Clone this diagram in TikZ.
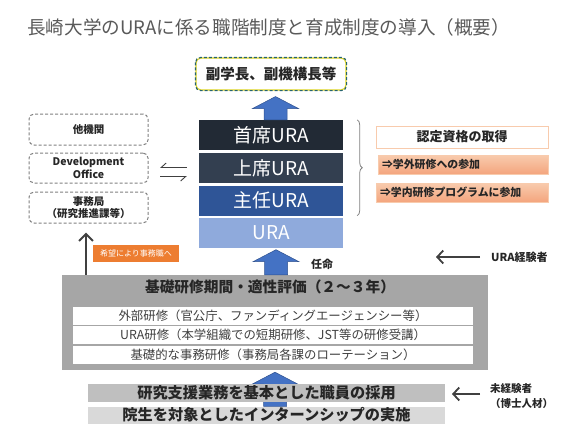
\documentclass[tikz,border=0pt]{standalone}
\usepackage{fontspec}
\setmainfont{Noto Sans CJK JP}
\usetikzlibrary{arrows.meta,calc,decorations.pathreplacing}
\definecolor{cA}{HTML}{222A35}
\definecolor{cB}{HTML}{333F50}
\definecolor{cC}{HTML}{2F5597}
\definecolor{cD}{HTML}{8FAADC}
\definecolor{blk}{HTML}{4472C4}
\definecolor{blkd}{HTML}{2F528F}
\definecolor{gboxc}{HTML}{A6A6A6}
\definecolor{barA}{HTML}{BFBFBF}
\definecolor{barB}{HTML}{D9D9D9}
\definecolor{orng}{HTML}{ED7D31}
\definecolor{peach}{HTML}{F8CBAD}
\definecolor{peachd}{HTML}{F4A57E}
\definecolor{ttl}{HTML}{595959}
\definecolor{txt}{HTML}{262626}
\definecolor{dk}{HTML}{404040}
\definecolor{dashg}{HTML}{808080}
\newcommand{\mkblockarrow}[2]{\filldraw[blockst] let \p1=#1, \p2=#2 in
  (\x1-11.5pt,\y1) -- (\x1-11.5pt,\y2-12pt) -- (\x1-23pt,\y2-12pt) -- (\x1,\y2)
  -- (\x1+23pt,\y2-12pt) -- (\x1+11.5pt,\y2-12pt) -- (\x1+11.5pt,\y1) -- cycle;}
\begin{document}
\begin{tikzpicture}[x=1pt,y=-1pt,
  lvl/.style={rectangle,minimum width=144pt,minimum height=30pt,inner sep=0pt,text=white,font=\fontsize{19}{22}\selectfont},
  sidebox/.style={rectangle,rounded corners=5pt,draw=dashg,dash pattern=on 3pt off 2pt,line width=1pt,fill=white,minimum width=119pt,inner sep=0pt,align=center,font=\bfseries\fontsize{10.5}{12.5}\selectfont,text=txt},
  rowbox/.style={rectangle,fill=white,minimum width=400pt,minimum height=18pt,inner sep=0pt,text=dk,font=\fontsize{12.4}{14}\selectfont},
  barbox/.style={rectangle,minimum width=357pt,inner sep=0pt,text=txt,font=\bfseries\fontsize{15.2}{17}\selectfont},
  certbox/.style={rectangle,minimum width=170pt,minimum height=19pt,inner sep=0pt,draw=peach,line width=0.6pt,top color=peach,bottom color=peachd,text=txt,font=\bfseries\fontsize{10.9}{12}\selectfont},
  blockst/.style={fill=blk,draw=blkd,line width=0.5pt},
  darrow/.style={draw=dk,line width=2pt,-{Straight Barb[length=7pt,width=14pt]}},
  tarrow/.style={draw=dk,line width=1.8pt,-{Straight Barb[length=6pt,width=13pt]}},
  harp/.style={draw=dk,line width=0.9pt,-{Straight Barb[harpoon,swap,length=5pt,width=9pt]}},
  smalltxt/.style={inner sep=0pt,text=txt,font=\bfseries\fontsize{11}{13}\selectfont}
]
\useasboundingbox (0,0) rectangle (567,434);
% title
\node[anchor=west,inner sep=0pt,text=ttl,font=\fontsize{18.6}{22}\selectfont] (title) at (27,27) {長崎大学のURAに係る職階制度と育成制度の導入（概要）};
% top box
\node[rectangle,rounded corners=5pt,draw=yellow!85!black,line width=1.1pt,fill=white,minimum width=150pt,minimum height=32pt,inner sep=0pt,font=\bfseries\fontsize{14.5}{17}\selectfont,text=txt] (top) at (271,74) {副学長、副機構長等};
\draw[draw=blk!80!green!70!black,line width=1.1pt,dash pattern=on 3pt off 2pt,rounded corners=5pt] (top.north west) rectangle (top.south east);
% stack
\node[lvl,fill=cA] (s4) at (271,135) {首席URA};
\node[lvl,fill=cB] (s3) at (271,168) {上席URA};
\node[lvl,fill=cC] (s2) at (271,200.5) {主任URA};
\node[lvl,fill=cD] (s1) at (271,232.5) {URA};
\mkblockarrow{($(s4.north)+(4.5,0)$)}{($(top.south)+(4.5,6)$)}
% brace
\draw[decorate,decoration={brace,amplitude=5pt},draw=dashg,line width=0.8pt] ($(s4.north east)+(14,0)$) -- ($(s2.south east)+(14,0)$);
% right boxes
\node[rectangle,minimum width=172pt,minimum height=22pt,inner sep=0pt,draw=peach,line width=1pt,fill=white,text=txt,font=\bfseries\fontsize{13}{15}\selectfont] (cert) at (462,137) {認定資格の取得};
\node[certbox,text width=162pt,align=left] (ext) at (463,164.5) {⇒学外研修への参加};
\node[certbox,minimum width=172pt,text width=164pt,align=left] (int) at (462,192.5) {⇒学内研修プログラムに参加};
% left boxes
\node[sidebox,minimum height=31pt] (oth) at (88.5,129.5) {他機関};
\node[sidebox,minimum height=30pt] (dev) at (88.5,168) {Development\\Office};
\node[sidebox,minimum height=31pt] (jimu) at (88.5,207.5) {事務局\\（研究推進課等）};
% harpoons
\coordinate (hl) at ($(dev.east)+(11.5,4)$);
\coordinate (hr) at ($(s3.west)+(-12,4)$);
\draw[harp] ($(hr)+(0,-4.5)$) -- ($(hl)+(0,-4.5)$);
\draw[harp] ($(hl)+(0,4.5)$) -- ($(hr)+(0,4.5)$);
% gray box
\node[rectangle,fill=gboxc,minimum width=426pt,minimum height=95pt,inner sep=0pt] (gb) at (275,322.5) {};
\node[inner sep=0pt,text=txt,font=\bfseries\fontsize{14.7}{17}\selectfont] (gbt) at (270,287) {基礎研修期間・適性評価（２～３年）};
\node[rowbox] (r1) at (273,315.5) {外部研修（官公庁、ファンディングエージェンシー等）};
\node[rowbox] (r2) at (273,335) {URA研修（本学組織での短期研修、JST等の研修受講）};
\node[rowbox] (r3) at (273,355) {基礎的な事務研修（事務局各課のローテーション）};
% arrow appoint
\mkblockarrow{($(gb.north -| s1.south)+(5,0)$)}{($(s1.south)+(5,2)$)}
\node[smalltxt] (nin) at (322,264) {任命};
% left arrow up
\draw[darrow] ($(gb.north -| jimu.south)+(-2.5,0)$) -- ($(jimu.south)+(-2.5,9)$);
\node[rectangle,fill=orng,minimum width=86pt,minimum height=17pt,inner sep=0pt,text=white,font=\fontsize{8}{9}\selectfont] (wish) at (136,253.5) {希望により事務職へ};
% URA experienced
\node[smalltxt,anchor=west] (urx) at (491,257) {URA経験者};
\draw[tarrow] ($(urx.west)+(-11,0)$) -- ++(-44,0);
% bottom
\node[rectangle,minimum width=357pt,minimum height=17pt,fill=barB,inner sep=0pt] (b2) at (266.5,415) {};
\mkblockarrow{($(b2.north -| s1.south)+(4,0)$)}{($(gb.south -| s1.south)+(4,2)$)}
\node[barbox,fill=barA,minimum height=18pt] (b1) at (266.5,393) {研究支援業務を基本とした職員の採用};
\node[barbox,minimum height=17pt] (b2t) at (b2) {院生を対象としたインターンシップの実施};
\node[anchor=west,inner sep=0pt,align=left,text=txt,font=\bfseries\fontsize{10.5}{15}\selectfont] (nov) at (490,396.5) {未経験者\\（博士人材）};
\draw[tarrow] ($(nov.west)+(-10,-2.5)$) -- ++(-28,0);
\end{tikzpicture}
\end{document}
